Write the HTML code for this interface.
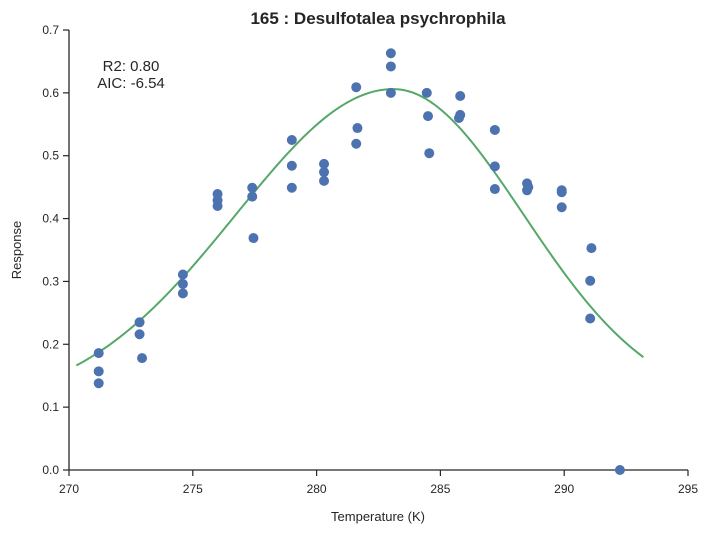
<!DOCTYPE html>
<html><head><meta charset="utf-8"><style>
body{margin:0;background:#fff;font-family:"Liberation Sans",Arial,sans-serif}
svg text{font-family:"Liberation Sans",Arial,sans-serif;fill:#262626}
</style></head><body>
<svg id="chart" width="710" height="533" xmlns="http://www.w3.org/2000/svg">
<rect width="710" height="533" fill="#fff"/>
<text x="378" y="24" text-anchor="middle" font-size="17" font-weight="bold">165 : Desulfotalea psychrophila</text>
<text x="131" y="71" text-anchor="middle" font-size="15">R2: 0.80</text>
<text x="131" y="88" text-anchor="middle" font-size="15">AIC: -6.54</text>
<text x="378" y="521" text-anchor="middle" font-size="13">Temperature (K)</text>
<text x="21" y="250" text-anchor="middle" font-size="13" transform="rotate(-90 21 250)">Response</text>
<g id="axes"></g>
<g id="marks"></g>
</svg>
<script>
const xTicks=[270,275,280,285,290,295];
const yTicks=[0.0,0.1,0.2,0.3,0.4,0.5,0.6,0.7];
const temps=[271.2,271.2,271.2,272.85,272.85,272.95,274.6,274.6,274.6,276,276,276,277.4,277.4,277.45,279,279,279,280.3,280.3,280.3,281.6,281.65,281.6,283,283,283,284.45,284.5,284.55,285.8,285.8,285.75,287.2,287.2,287.2,288.5,288.55,288.5,289.9,289.9,289.9,291.1,291.05,291.05,292.25];
const responses=[0.186,0.157,0.138,0.235,0.216,0.178,0.311,0.296,0.281,0.439,0.429,0.420,0.449,0.435,0.369,0.525,0.484,0.449,0.487,0.474,0.460,0.609,0.544,0.519,0.663,0.642,0.600,0.600,0.563,0.504,0.595,0.565,0.560,0.541,0.483,0.447,0.456,0.450,0.445,0.445,0.442,0.418,0.353,0.301,0.241,0.0];
const fitBase=0.1, fitAmp=0.506, fitTopt=283.1, fitSigLeft=6.35, fitSigRight=5.25, fitRange=[270.3,293.2];

const L=69,R=688,T=30,B=470,NS="http://www.w3.org/2000/svg";
const xs=v=>L+(v-270)/(295-270)*(R-L);
const ys=v=>B-(v-0)/(0.7-0)*(B-T);
function mk(tag,attrs,parent){const e=document.createElementNS(NS,tag);for(const k in attrs)e.setAttribute(k,attrs[k]);parent.appendChild(e);return e;}
const axes=document.getElementById('axes'),marks=document.getElementById('marks');
let e=mk('line',{x1:L,y1:T,x2:L,y2:B+0.5,stroke:'#262626','stroke-width':1.3},axes);


e=mk('line',{x1:L,y1:B,x2:R,y2:B,stroke:'#262626','stroke-width':1.3},axes);


xTicks.forEach(t=>{
 const x=xs(t);
 let l=mk('line',{x1:x,y1:B,x2:x,y2:B+6,stroke:'#262626','stroke-width':1.2},axes);
 
 
 let tx=mk('text',{x:x,y:B+23,'text-anchor':'middle','font-size':12},axes);
 tx.textContent=t;
 
 
});
yTicks.forEach(t=>{
 const y=ys(t);
 let l=mk('line',{x1:L-6,y1:y,x2:L,y2:y,stroke:'#262626','stroke-width':1.2},axes);
 
 
 let tx=mk('text',{x:L-10,y:y+4,'text-anchor':'end','font-size':12},axes);
 tx.textContent=t.toFixed(1);
 
 
});
function model(t){const s=t<fitTopt?fitSigLeft:fitSigRight;return fitBase+fitAmp*Math.exp(-Math.pow(t-fitTopt,2)/(2*s*s));}
let d='';
for(let i=0;i<=200;i++){const t=fitRange[0]+(fitRange[1]-fitRange[0])*i/200;d+=(i?'L':'M')+xs(t).toFixed(2)+','+ys(model(t)).toFixed(2);}
const cv=mk('path',{d:d,fill:'none',stroke:'#55a868','stroke-width':2},marks);


temps.forEach((t,i)=>{
 const c=mk('circle',{cx:xs(t),cy:ys(responses[i]),r:5,fill:'#4c72b0'},marks);
 
 
});
</script>
</body></html>
